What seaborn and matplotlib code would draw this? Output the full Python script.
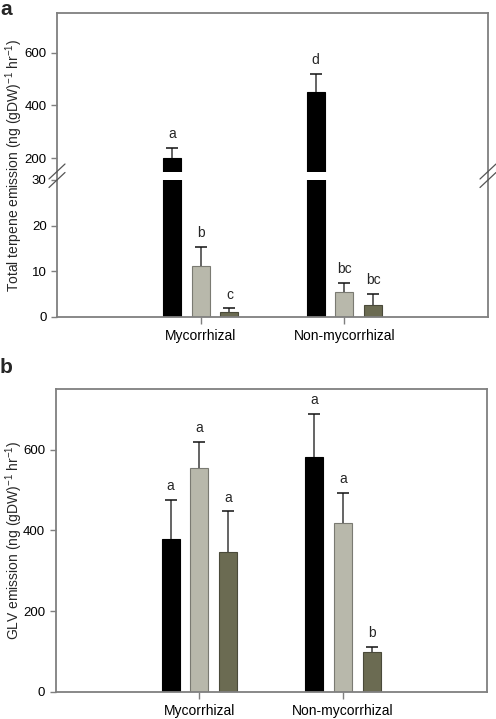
import numpy as np
import pandas as pd
import matplotlib
matplotlib.use("Agg")
import matplotlib.pyplot as plt
from matplotlib.lines import Line2D
from matplotlib.container import BarContainer
import seaborn as sns

# ---------------- data ----------------
categories = ["Mycorrhizal", "Non-mycorrhizal"]
treatments = ["Treatment 1", "Treatment 2", "Treatment 3"]

terpene_mean = {"Treatment 1": [200, 452], "Treatment 2": [11.2, 5.5], "Treatment 3": [1.0, 2.6]}
terpene_err = {"Treatment 1": [38, 66], "Treatment 2": [4.0, 1.8], "Treatment 3": [0.8, 2.3]}
terpene_letters = {"Treatment 1": ["a", "d"], "Treatment 2": ["b", "bc"], "Treatment 3": ["c", "bc"]}

glv_mean = {"Treatment 1": [378, 583], "Treatment 2": [555, 419], "Treatment 3": [347, 98]}
glv_err = {"Treatment 1": [97, 105], "Treatment 2": [65, 73], "Treatment 3": [100, 14]}
glv_letters = {"Treatment 1": ["a", "a"], "Treatment 2": ["a", "a"], "Treatment 3": ["a", "b"]}

upper_ticks = [200, 400, 600]
lower_ticks = [0, 10, 20, 30]
glv_ticks = [0, 200, 400, 600]

colors = ["#000000", "#b8b8ab", "#6b6b52"]
edgecolors = ["#000000", "#7a7a72", "#4a4a3a"]


def frame(mean, err, letters):
    rows = []
    for t in treatments:
        for i, c in enumerate(categories):
            rows.append({"cat": c, "treat": t, "val": mean[t][i], "err": err[t][i], "lab": letters[t][i]})
    return pd.DataFrame(rows)


df_a = frame(terpene_mean, terpene_err, terpene_letters)
df_b = frame(glv_mean, glv_err, glv_letters)

sns.set_style("ticks")
plt.rcParams["font.family"] = ["Liberation Sans", "DejaVu Sans"]
plt.rcParams["mathtext.fontset"] = "custom"
plt.rcParams["mathtext.rm"] = "Liberation Sans"
plt.rcParams["mathtext.it"] = "Liberation Sans"

W, H = 496, 719
fig = plt.figure(figsize=(W / 100, H / 100), dpi=100)


def fx(px):
    return px / W


def fy(py):
    return 1 - py / H


SPC = "#7f7f7f"


def draw_bars(ax, df, letter_range):
    sns.barplot(data=df, x="cat", y="val", hue="treat", order=categories, hue_order=treatments,
                palette=colors, width=0.6, gap=0.375, errorbar=None, legend=False, ax=ax,
                linewidth=0.8, saturation=1)
    bar_conts = [c for c in ax.containers if isinstance(c, BarContainer)]
    for ci, cont in enumerate(bar_conts):
        t = treatments[ci]
        sub = df[df["treat"] == t].set_index("cat").loc[categories]
        for bi, patch in enumerate(cont.patches):
            patch.set_edgecolor(edgecolors[ci])
            xc = patch.get_x() + patch.get_width() / 2
            v = sub["val"].iloc[bi]
            e = sub["err"].iloc[bi]
            top = v + e
            ax.plot([xc, xc], [v, top], color="#3a3a3a", lw=1.1, zorder=1.5,
                    solid_capstyle="butt")
            ax.plot([xc], [top], marker="_", markersize=8, markeredgewidth=1.1,
                    color="#111111", zorder=3)
            lo, hi = letter_range
            if lo <= top <= hi:
                ax.annotate(sub["lab"].iloc[bi], (xc, top), xytext=(0, 5), textcoords="offset points",
                            ha="center", va="bottom", fontsize=10)
    ax.set_xlim(-1.0, 2.0)
    ax.set_xlabel("")
    ax.set_ylabel("")


def style_spines(ax):
    for s in ax.spines.values():
        s.set_color(SPC)
        s.set_linewidth(1.3)
    ax.tick_params(axis="both", colors=SPC, labelcolor="black", labelsize=9.5, width=1.0, length=4,
                   direction="out")


# ---------------- panel a (broken axis) ----------------
L, R = 57, 488
ax_up = fig.add_axes([fx(L), fy(171.5), fx(R) - fx(L), fy(13) - fy(171.5)])
ax_lo = fig.add_axes([fx(L), fy(316.7), fx(R) - fx(L), fy(180) - fy(316.7)])

draw_bars(ax_up, df_a, letter_range=(150, 750))
ax_up.set_ylim(150, 750)
draw_bars(ax_lo, df_a, letter_range=(0, 30))
ax_lo.set_ylim(0, 30)

ax_up.set_yticks(upper_ticks)
ax_lo.set_yticks(lower_ticks)
style_spines(ax_up)
style_spines(ax_lo)
ax_up.spines["bottom"].set_visible(False)
ax_up.tick_params(axis="x", bottom=False, labelbottom=False)
ax_lo.spines["top"].set_visible(False)
ax_lo.tick_params(axis="x", labelsize=10, length=5)
ax_up.spines["top"].set_visible(True)
ax_up.spines["right"].set_visible(True)
ax_lo.spines["right"].set_visible(True)

# spine continuation through the break
for xp in (L, R):
    fig.add_artist(Line2D([fx(xp), fx(xp)], [fy(171.5), fy(180)], color=SPC, lw=1.3))
    for yc in (171.5, 180):
        fig.add_artist(Line2D([fx(xp - 8), fx(xp + 8)], [fy(yc + 7.5), fy(yc - 7.5)],
                              color="#555555", lw=0.9))

fig.text(fx(14), (fy(13) + fy(316.7)) / 2,
         r"Total terpene emission (ng (gDW)$^{-1}$ hr$^{-1}$)",
         rotation=90, ha="center", va="center", fontsize=10)
fig.text(fx(0), fy(0), "a", fontsize=15, fontweight="bold", ha="left", va="top")

# ---------------- panel b ----------------
Lb, Rb = 55.7, 486.7
ax_b = fig.add_axes([fx(Lb), fy(691.7), fx(Rb) - fx(Lb), fy(389.3) - fy(691.7)])
draw_bars(ax_b, df_b, letter_range=(0, 750))
ax_b.set_ylim(0, 750)
ax_b.set_yticks(glv_ticks)
style_spines(ax_b)
ax_b.tick_params(axis="x", labelsize=10, length=5)
for s in ("top", "right"):
    ax_b.spines[s].set_visible(True)

fig.text(fx(14), (fy(389.3) + fy(691.7)) / 2,
         r"GLV emission (ng (gDW)$^{-1}$ hr$^{-1}$)",
         rotation=90, ha="center", va="center", fontsize=10)
fig.text(fx(0), fy(358), "b", fontsize=15, fontweight="bold", ha="left", va="top")

fig.savefig("out.png", dpi=100)
